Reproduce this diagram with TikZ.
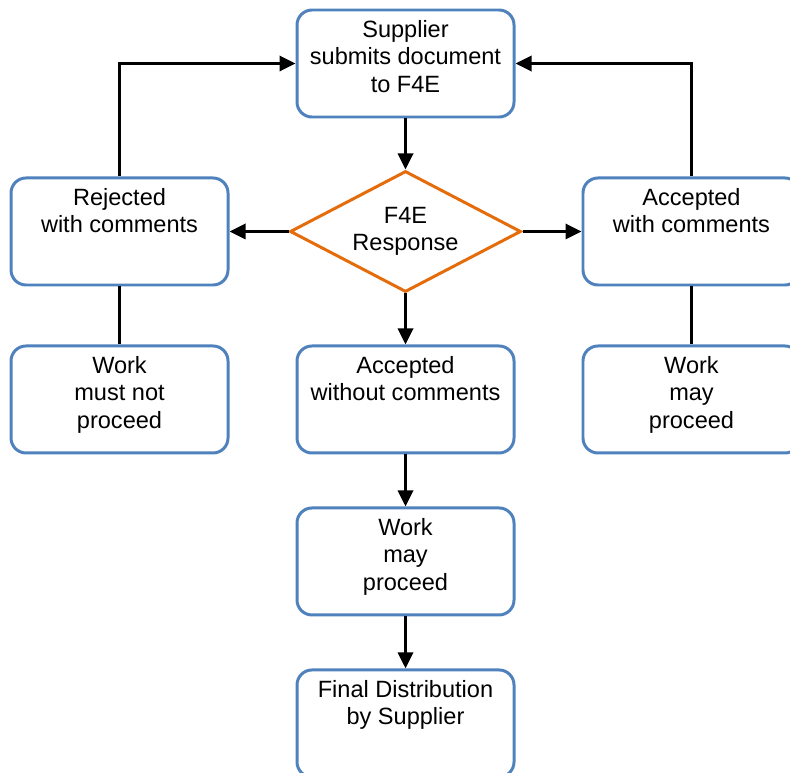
\documentclass[tikz,border=0pt]{standalone}
\usepackage{fontspec}
\setmainfont{Liberation Sans}
\usetikzlibrary{shapes.geometric, arrows.meta, positioning}
\definecolor{boxblue}{RGB}{79,129,189}
\definecolor{decorange}{RGB}{228,108,10}
\tikzset{
    stage/.style={rectangle, draw=boxblue, line width=1.7pt, rounded corners=0.3cm, minimum width=4.34cm, minimum height=2.14cm},
    stagetext/.style={anchor=north, align=center, inner sep=0pt, yshift=-0.24cm, font=\fontsize{13.4}{15.4}\selectfont},
    decision/.style={diamond, aspect=1.9, draw=decorange, line width=1.7pt, inner sep=0pt, minimum width=4.62cm, minimum height=2.42cm, align=center, font=\fontsize{13.4}{15.4}\selectfont},
    arrow/.style={-{Triangle[length=0.32cm, width=0.3cm]}, line width=1.9pt},
    link/.style={line width=1.9pt},
}

\begin{document}
\begin{tikzpicture}
    \clip (0,0) rectangle (15.8,-15.44);
    % Row 1: submission
    \node [stage, label={[stagetext]north:Supplier\\submits document\\to F4E}] (submit) at (8.11,-1.27) {};
    % Row 2: decision and outcomes with comments
    \node [decision, below=1.02cm of submit] (response) {F4E\\Response};
    \node [stage, left=1.18cm of response, label={[stagetext]north:Rejected\\with comments}] (rejected) {};
    \node [stage, right=1.18cm of response, label={[stagetext]north:Accepted\\with comments}] (accepted) {};
    % Row 3: consequences
    \node [stage, below=1.16cm of rejected, label={[stagetext]north:Work\\must not\\proceed}] (halt) {};
    \node [stage, below=1.02cm of response, label={[stagetext]north:Accepted\\without comments}] (clean) {};
    \node [stage, below=1.16cm of accepted, label={[stagetext]north:Work\\may\\proceed}] (goside) {};
    % Rows 4-5: main path
    \node [stage, below=1.04cm of clean, label={[stagetext]north:Work\\may\\proceed}] (go) {};
    \node [stage, below=1.04cm of go, label={[stagetext]north:Final Distribution\\by Supplier}] (final) {};
    % Flow arrows
    \draw [arrow] (submit) -- (response);
    \draw [arrow] (response) -- (rejected);
    \draw [arrow] (response) -- (accepted);
    \draw [arrow] (response) -- (clean);
    \draw [arrow] (clean) -- (go);
    \draw [arrow] (go) -- (final);
    % Resubmission loops
    \draw [arrow] (rejected.north) |- (submit.west);
    \draw [arrow] (accepted.north) |- (submit.east);
    % Plain links
    \draw [link] (rejected) -- (halt);
    \draw [link] (accepted) -- (goside);
\end{tikzpicture}
\end{document}
